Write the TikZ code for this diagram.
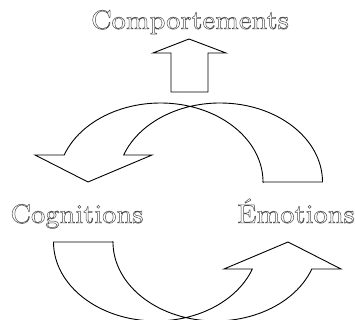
\documentclass[tikz,border=0pt]{standalone}
\usepackage{fontspec}
\newfontfamily\widefont{lmroman8-regular.otf}
\newcommand\outlinetext[1]{\special{pdf:literal direct 1 Tr 0.5 w}#1\special{pdf:literal direct 0 Tr}}
\begin{document}
\begin{tikzpicture}[x=1pt,y=1pt,line width=0.9pt,
    wordbox/.style={font=\widefont\fontsize{26.8}{32}\selectfont,text=black!70,inner sep=0pt,anchor=base}]
  \useasboundingbox (0,0) rectangle (355,320);

  % up arrow
  \draw (189,281) -- (226,267) -- (208,267) -- (208,228) -- (171,228) -- (171,267) -- (153,267) -- cycle;

  % twisted arrows
  \foreach \turn in {0,180}
    \draw[rotate around={\turn:(188,108)}] (263,138) -- (322.5,138)
      arc[start angle=0,end angle=160,x radius=102.5,y radius=79]
      -- (152,165) -- (88,138) -- (35,165) -- (64.2,165)
      arc[start angle=160,end angle=0,x radius=102.5,y radius=79] -- cycle;

  \path (190,291) node[wordbox] (comp) {\outlinetext{Comportements}};
  \path (77,97) node[wordbox] (cogn) {\outlinetext{Cognitions}};
  \path (296,97) node[wordbox] (emot) {\outlinetext{Émotions}};
\end{tikzpicture}
\end{document}
